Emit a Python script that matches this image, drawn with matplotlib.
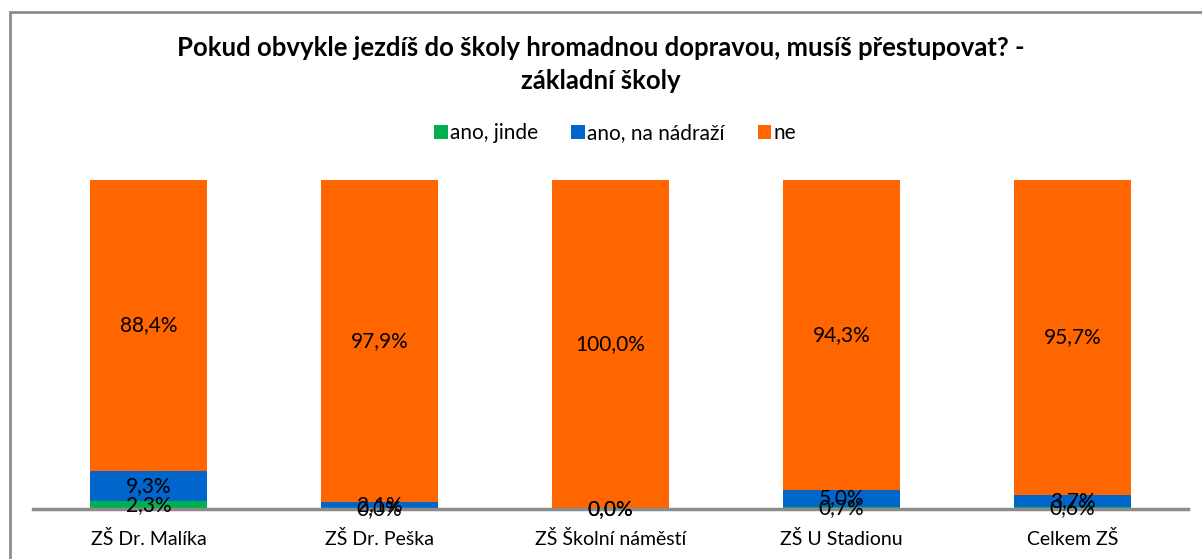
import matplotlib
matplotlib.use("Agg")
import matplotlib.pyplot as plt
from matplotlib.patches import Rectangle

categories = ["ZŠ Dr. Malíka", "ZŠ Dr. Peška", "ZŠ Školní náměstí", "ZŠ U Stadionu", "Celkem ZŠ"]
series_names = ["ano, jinde", "ano, na nádraží", "ne"]
ano_jinde = [2.3, 0.0, 0.0, 0.7, 0.6]
ano_nadrazi = [9.3, 2.1, 0.0, 5.0, 3.7]
ne = [88.4, 97.9, 100.0, 94.3, 95.7]
colors = ["#00B050", "#0066CC", "#FF6600"]

plt.rcParams['font.family'] = ['Lato', 'DejaVu Sans']

W, H = 1202, 559
fig = plt.figure(figsize=(W / 100, H / 100), dpi=100)
fig.patch.set_facecolor("white")

# outer chart border
fig.add_artist(Rectangle((10 / W, -0.1), 1.2, 1 - 12 / H + 0.1, transform=fig.transFigure,
                         fill=False, edgecolor="#8C8C8C", linewidth=2))

ax = fig.add_axes([33 / W, 1 - 509 / H, (1188 - 33) / W, (509 - 180) / H])
x = list(range(len(categories)))
bottom = [0.0] * len(categories)
for vals, name, col in zip([ano_jinde, ano_nadrazi, ne], series_names, colors):
    ax.bar(x, vals, width=0.51, bottom=bottom, color=col, label=name, zorder=2)
    for xi, v, b in zip(x, vals, bottom):
        ax.text(xi, b + v / 2, f"{v:.1f}%".replace(".", ","), ha="center", va="center",
                fontsize=15, color="black", zorder=6, clip_on=False)
    bottom = [b + v for b, v in zip(bottom, vals)]

ax.set_xlim(-0.5, len(categories) - 0.5)
ax.set_ylim(0, 100)
ax.set_yticks([])
ax.set_xticks(x)
ax.set_xticklabels(categories, fontsize=14)
ax.tick_params(axis="x", length=0, pad=15)
for s in ["top", "right", "left"]:
    ax.spines[s].set_visible(False)
ax.spines["bottom"].set_color("#8C8C8C")
ax.spines["bottom"].set_linewidth(2.5)
ax.spines["bottom"].set_zorder(4)

fig.text(0.5, 1 - 48 / H, "Pokud obvykle jezdíš do školy hromadnou dopravou, musíš přestupovat? -",
         ha="center", va="center", fontsize=18.5, fontweight="bold")
fig.text(0.5, 1 - 81 / H, "základní školy", ha="center", va="center", fontsize=18.5, fontweight="bold")

fig.legend(loc="center", bbox_to_anchor=(615 / W, 1 - 133 / H), ncol=3, frameon=False,
           fontsize=15, handlelength=0.65, handleheight=0.65, handletextpad=0.1,
           columnspacing=1.6)

fig.savefig("out.png", dpi=100)
